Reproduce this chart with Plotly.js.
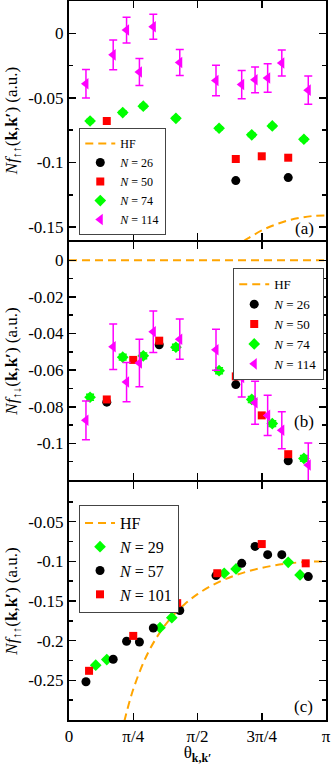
<!DOCTYPE html>
<html>
<head>
<meta charset="utf-8">
<script src="https://cdn.plot.ly/plotly-3.0.1.min.js"></script>
<style>html,body{margin:0;padding:0;background:#fff;}</style>
</head>
<body>
<div id="chart" style="width:332px;height:765px;"></div>
<script>
// x positions are theta / pi
const xTri = [0.066, 0.172, 0.224, 0.274, 0.328, 0.431, 0.572, 0.672, 0.724, 0.773, 0.828, 0.931];
const xDia = [0.082, 0.209, 0.289, 0.416, 0.584, 0.711, 0.791, 0.914];
const xSq = [0.147, 0.250, 0.351, 0.649, 0.750, 0.853];
const xCirc = [0.147, 0.351, 0.649, 0.853];

// panel (a): f up-up, spin-polarized
const a114 = [-0.039, -0.0167, 0.0025, -0.030, 0.005, -0.0226, -0.0366, -0.0397, -0.036, -0.0346, -0.023, -0.044];
const a114err = [0.011, 0.0115, 0.010, 0.0104, 0.0097, 0.010, 0.0118, 0.011, 0.010, 0.011, 0.010, 0.011];
const a74 = [-0.0679, -0.0614, -0.0564, -0.0658, -0.0735, -0.0786, -0.0717, -0.0820];
const a74err = [0.0012, 0.0012, 0.0012, 0.0012, 0.0012, 0.0012, 0.0012, 0.0012];
const a50 = [-0.0679, -0.0776, -0.0909, -0.0973, -0.0952, -0.0963];
const a26 = [-0.0773, -0.1024, -0.114, -0.1117];
const aHFx = [0.68, 0.69, 0.70, 0.75, 0.80, 0.85, 0.90, 0.95, 1.0];
const aHFy = [-0.1609, -0.1595, -0.1583, -0.1526, -0.1483, -0.1450, -0.1428, -0.1414, -0.1410];

// panel (b): f up-down
const b114 = [-0.0874, -0.0472, -0.0665, -0.0561, -0.039, -0.0431, -0.0489, -0.064, -0.0778, -0.0847, -0.0928, -0.1118];
const b114err = [0.0106, 0.0124, 0.0107, 0.013, 0.0113, 0.011, 0.0112, 0.0106, 0.0117, 0.011, 0.0101, 0.012];
const b74 = [-0.0748, -0.0529, -0.0522, -0.0475, -0.0603, -0.076, -0.0892, -0.1082];
const b74err = [0.0016, 0.0016, 0.0016, 0.0016, 0.0016, 0.0016, 0.0016, 0.0016];
const b50 = [-0.076, -0.0544, -0.0439, -0.0634, -0.0847, -0.1059];
const b26 = [-0.0775, -0.0461, -0.0679, -0.1095];
const bHFx = [0, 1];
const bHFy = [0, 0];

// panel (c): f up-up
const xC29 = [0.104, 0.147, 0.354, 0.400, 0.604, 0.650, 0.853, 0.899];
const c29 = [-0.2309, -0.2238, -0.1836, -0.171, -0.115, -0.1096, -0.1013, -0.1171];
const c57 = [-0.2518, -0.2234, -0.2008, -0.2017, -0.184, -0.1619, -0.118, -0.1025, -0.0812, -0.0916, -0.0916, -0.1192];
const xC101 = [0.078, 0.250, 0.421, 0.577, 0.750, 0.921];
const c101 = [-0.238, -0.194, -0.1527, -0.115, -0.0782, -0.1025];
const cHFx = [0.215, 0.25, 0.30, 0.35, 0.40, 0.45, 0.50, 0.55, 0.60, 0.65, 0.70, 0.75, 0.80, 0.85, 0.90, 0.95, 1.0];
const cHFy = [-0.3018, -0.2613, -0.2203, -0.1914, -0.1701, -0.1540, -0.1414, -0.1315, -0.1236, -0.1173, -0.1122, -0.1082, -0.1051, -0.1028, -0.1012, -0.1003, -0.1000];

const xTickVals = [0, 0.25, 0.5, 0.75, 1];
const xTickText = ['0', 'π/4', 'π/2', '3π/4', 'π'];
const yaTickVals = [0, -0.05, -0.1, -0.15];
const yaTickText = ['0', '-0.05', '-0.1', '-0.15'];
const ybTickVals = [0, -0.02, -0.04, -0.06, -0.08, -0.1];
const ybTickText = ['0', '-0.02', '-0.04', '-0.06', '-0.08', '-0.1'];
const ycTickVals = [-0.05, -0.1, -0.15, -0.2, -0.25];
const ycTickText = ['-0.05', '-0.1', '-0.15', '-0.2', '-0.25'];

const FONT = '"Liberation Serif", serif';
const ORANGE = '#ffa500', GREEN = '#00ff00', MAG = '#ff00ff', RED = '#ff0000';
const DASH = '8px,5px';

function pts(x, y, xa, ya, name, sym, color, size, leg, err) {
  const t = {x: x, y: y, xaxis: xa, yaxis: ya, name: name, mode: 'markers', type: 'scatter',
    marker: {symbol: sym, color: color, size: size, line: {width: 0}}, legend: leg, cliponaxis: true};
  if (err) t.error_y = {type: 'data', array: err, visible: true, color: color, thickness: 1.5, width: 4};
  return t;
}
function hf(x, y, xa, ya, leg) {
  return {x: x, y: y, xaxis: xa, yaxis: ya, name: 'HF', mode: 'lines', type: 'scatter',
    line: {color: ORANGE, width: 2, dash: DASH, shape: 'spline'}, legend: leg};
}

const data = [
  hf(aHFx, aHFy, 'x', 'y', 'legend'),
  pts(xCirc, a26, 'x', 'y', '<i>N</i> = 26', 'circle', 'black', 9, 'legend'),
  pts(xSq, a50, 'x', 'y', '<i>N</i> = 50', 'square', RED, 8, 'legend'),
  pts(xDia, a74, 'x', 'y', '<i>N</i> = 74', 'diamond', GREEN, 9, 'legend', a74err),
  pts(xTri, a114, 'x', 'y', '<i>N</i> = 114', 'triangle-left', MAG, 10, 'legend', a114err),

  hf(bHFx, bHFy, 'x2', 'y2', 'legend2'),
  pts(xCirc, b26, 'x2', 'y2', '<i>N</i> = 26', 'circle', 'black', 9, 'legend2'),
  pts(xSq, b50, 'x2', 'y2', '<i>N</i> = 50', 'square', RED, 8, 'legend2'),
  pts(xDia, b74, 'x2', 'y2', '<i>N</i> = 74', 'diamond', GREEN, 9, 'legend2', b74err),
  pts(xTri, b114, 'x2', 'y2', '<i>N</i> = 114', 'triangle-left', MAG, 10, 'legend2', b114err),

  hf(cHFx, cHFy, 'x3', 'y3', 'legend3'),
  pts(xC29, c29, 'x3', 'y3', '<i>N</i> = 29', 'diamond', GREEN, 9, 'legend3'),
  pts(xTri, c57, 'x3', 'y3', '<i>N</i> = 57', 'circle', 'black', 9, 'legend3'),
  pts(xC101, c101, 'x3', 'y3', '<i>N</i> = 101', 'square', RED, 8, 'legend3')
];

function xax(anchor, labels) {
  const a = {anchor: anchor, domain: [0, 1], range: [0, 1], tickmode: 'array', tickvals: xTickVals, ticktext: xTickText,
    ticks: 'inside', ticklen: 7, tickwidth: 1.5, tickcolor: '#000', showline: true, linecolor: '#000', linewidth: 2,
    mirror: 'allticks', showgrid: false, zeroline: false, showticklabels: labels,
    tickfont: {family: FONT, size: 17, color: '#000'}};
  if (labels) a.title = {text: 'θ<sub><b>k,k′</b></sub>', font: {family: FONT, size: 17, color: '#000'}, standoff: 5};
  return a;
}
function yax(anchor, dom, rng, tv, tt, minor, title) {
  return {anchor: anchor, domain: dom, range: rng, tickmode: 'array', tickvals: tv, ticktext: tt,
    ticks: 'inside', ticklen: 7, tickwidth: 1.5, tickcolor: '#000', showline: true, linecolor: '#000', linewidth: 2,
    mirror: 'allticks', showgrid: false, zeroline: false,
    minor: {tickmode: 'linear', tick0: 0, dtick: minor, ticks: 'inside', ticklen: 4, tickwidth: 1.5, tickcolor: '#000', showgrid: false},
    tickfont: {family: FONT, size: 17, color: '#000'},
    title: {text: title, font: {family: FONT, size: 17, color: '#000'}, standoff: 6}};
}
const upup = '<i>Nf</i><sub>↑↑</sub>(<b>k</b>,<b>k′</b>) (a.u.)';
const updn = '<i>Nf</i><sub>↑↓</sub>(<b>k</b>,<b>k′</b>) (a.u.)';

function leg(x, y, size, yanchor) {
  return {x: x, y: y, xanchor: 'left', yanchor: yanchor, bgcolor: '#fff', bordercolor: '#444', borderwidth: 1,
    font: {family: FONT, size: size, color: '#000'}, itemwidth: 30, tracegroupgap: 0};
}

const PX = 1 / 719;
const layout = {
  width: 332, height: 765,
  margin: {l: 69, r: 6, t: 1, b: 45},
  paper_bgcolor: '#fff', plot_bgcolor: '#fff',
  showlegend: true,
  xaxis: xax('y', false),
  yaxis: yax('x', [0.6662 + PX, 1], [-0.16, 0.025], yaTickVals, yaTickText, 0.025, upup),
  xaxis2: xax('y2', false),
  yaxis2: yax('x2', [0.3324 + PX, 0.6662 - PX], [-0.12, 0.01], ybTickVals, ybTickText, 0.01, updn),
  xaxis3: xax('y3', true),
  yaxis3: yax('x3', [0, 0.3324 - PX], [-0.3, 0], ycTickVals, ycTickText, 0.025, upup),
  legend: leg(0.04, 0.6745, 12, 'bottom'),
  legend2: leg(0.639, 0.6282, 13, 'top'),
  legend3: leg(0.039, 0.299, 16, 'top'),
  annotations: [
    {xref: 'x', yref: 'y', x: 0.918, y: -0.151, text: '(a)', showarrow: false, font: {family: FONT, size: 17, color: '#000'}},
    {xref: 'x2', yref: 'y2', x: 0.914, y: -0.0883, text: '(b)', showarrow: false, font: {family: FONT, size: 17, color: '#000'}},
    {xref: 'x3', yref: 'y3', x: 0.914, y: -0.2824, text: '(c)', showarrow: false, font: {family: FONT, size: 17, color: '#000'}}
  ]
};

Plotly.newPlot('chart', data, layout, {displayModeBar: false, staticPlot: true});
</script>
</body>
</html>
